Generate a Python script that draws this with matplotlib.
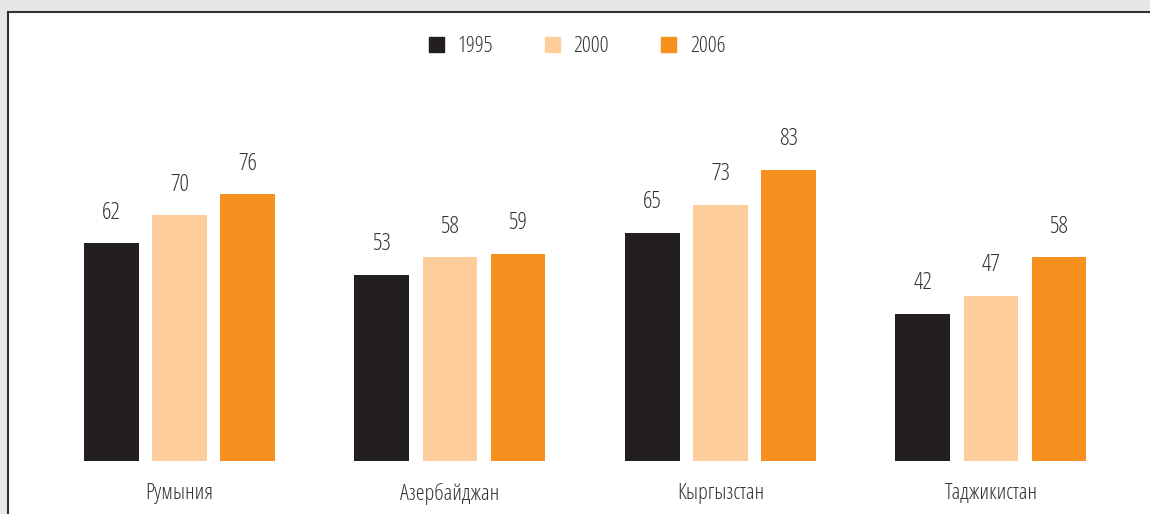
import matplotlib.pyplot as plt
from matplotlib.patches import Patch

countries = ["Румыния", "Азербайджан", "Кыргызстан", "Таджикистан"]
years = ["1995", "2000", "2006"]
v1995 = [62, 53, 65, 42]
v2000 = [70, 58, 73, 47]
v2006 = [76, 59, 83, 58]

colors = ["#231f20", "#fdce9b", "#f7901e"]
text_color = "#333333"

plt.rcParams["font.family"] = ["Open Sans", "DejaVu Sans"]
plt.rcParams["font.stretch"] = "condensed"
plt.rcParams["font.weight"] = 300

fig = plt.figure(figsize=(11.5, 5.14), dpi=100, facecolor="#e6e7e8")
ax = fig.add_axes([8 / 1150, 0, 1 - 8 / 1150, 502 / 514])
ax.set_facecolor("white")

width = 0.2033
step = 0.2514
for k, (vals, c) in enumerate(zip([v1995, v2000, v2006], colors)):
    xs = [i + (k - 1) * step for i in range(len(countries))]
    bars = ax.bar(xs, vals, width=width, color=c, label=years[k])
    for b, v in zip(bars, vals):
        ax.annotate(str(v), (b.get_x() + b.get_width() / 2, v), xytext=(0, 22),
                    textcoords="offset points", ha="center", va="center",
                    fontsize=17, color=text_color)

for i, name in enumerate(countries):
    ax.annotate(name, (i, 0), xytext=(0, -23.5), textcoords="offset points",
                ha="center", va="center", fontsize=16, color=text_color)

ax.set_xlim(-0.634, 3.5878)
ax.set_ylim(-15.1, 127.9)
ax.set_xticks([])
ax.set_yticks([])
for s in ["right", "bottom"]:
    ax.spines[s].set_visible(False)
for s in ["top", "left"]:
    ax.spines[s].set_color("#333333")
    ax.spines[s].set_linewidth(1.5)

handles = [Patch(color=c, label=y) for c, y in zip(colors, years)]
leg = fig.legend(handles=handles, loc="center", bbox_to_anchor=(577 / 1150, 1 - 47 / 514),
                 ncol=3, frameon=False, fontsize=16, handlelength=0.68, handleheight=0.68,
                 handletextpad=0.6, columnspacing=2.35, labelcolor=text_color)

fig.savefig("out.png", dpi=100, facecolor=fig.get_facecolor())
